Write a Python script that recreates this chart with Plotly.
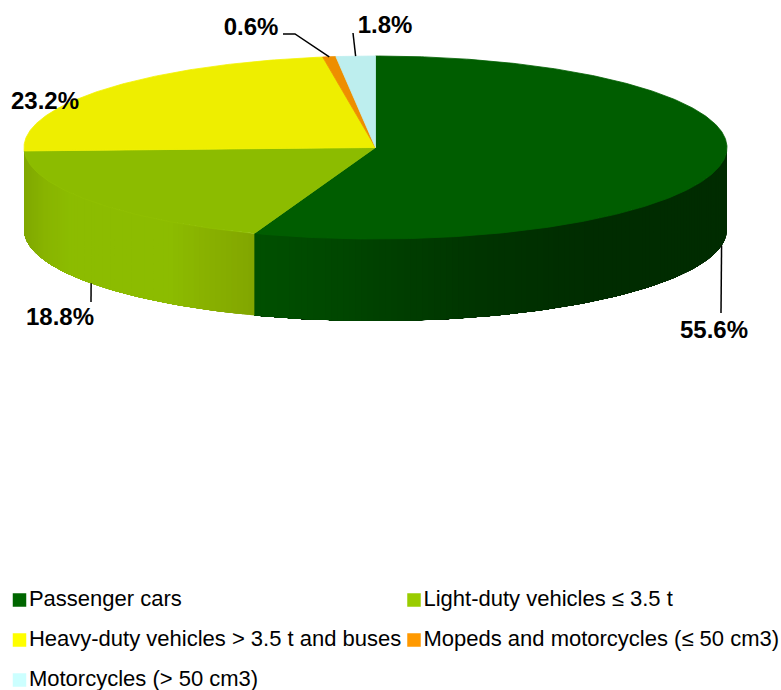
import numpy as np
import plotly.graph_objects as go

categories = ["Passenger cars", "Light-duty vehicles ≤ 3.5 t", "Heavy-duty vehicles > 3.5 t and buses",
              "Mopeds and motorcycles (≤ 50 cm3)", "Motorcycles (> 50 cm3)"]
shares = [55.6, 18.8, 23.2, 0.6, 1.8]
top_colors = ["#005d00", "#8cbc00", "#eeee00", "#ee8e00", "#bdeeee"]
edge_colors = ["#005f00", "#90c000", "#f2f200", "#ee8e00", "#bdeeee"]
legend_colors = ["#006600", "#99cc00", "#ffff00", "#ff9900", "#ccffff"]
label_x = [714, 60, 45, 251, 385]
label_y = [332, 319, 103, 29, 27]
# leader line end points (pixels), None = no leader
leader_ends = [[(721, 313)], [(91, 302)], None, [(295, 34), (283, 34)], [(353, 33)]]

CX, CY, RX, RY, DEPTH = 375.5, 147.5, 351.5, 91.5, 82

# side shading: (x pixel, rgb) stops per slice
side_stops = {
    0: ([253, 330, 400, 480, 590, 727], [(0, 80, 0), (0, 72, 0), (0, 62, 0), (0, 52, 0), (0, 44, 0), (0, 44, 0)]),
    1: ([24, 45, 70, 170, 210, 253], [(128, 168, 0), (136, 180, 0), (140, 188, 0), (140, 188, 0), (136, 176, 0), (130, 166, 0)]),
    2: ([24, 26], [(128, 168, 0), (128, 168, 0)]),
}


def px(theta):
    return CX + RX * np.sin(theta)


def py(theta):
    return CY - RY * np.cos(theta)


fig = go.Figure()
cum = np.concatenate([[0], np.cumsum(shares)]) / sum(shares) * 2 * np.pi


def add(x, y, fill, line=None, width=1.0):
    fig.add_trace(go.Scatter(x=x, y=y, mode="lines", fill="toself", fillcolor=fill,
                             line=dict(color=line or fill, width=width),
                             hoverinfo="skip", showlegend=False))


# side wall, visible between 90 and 270 degrees; each band runs on to the end of
# its slice and is painted over by the next one, so no seams show between bands
step = np.radians(1.0)
for i in range(len(shares)):
    a0 = max(cum[i], np.pi / 2)
    a1 = min(cum[i + 1], 3 * np.pi / 2)
    if a1 <= a0:
        continue
    xs_stop, cols = side_stops[i]
    n = max(1, int(np.ceil((a1 - a0) / step)))
    edges = np.linspace(a0, a1, n + 1)
    for s in range(n):
        t = np.linspace(edges[s], a1, max(3, (n - s) + 2))
        xm = px((edges[s] + edges[s + 1]) / 2)
        rgb = [int(round(np.interp(xm, xs_stop, [c[k] for c in cols]))) for k in range(3)]
        col = "rgb(%d,%d,%d)" % tuple(rgb)
        x = np.concatenate([px(t), px(t[::-1])])
        y = np.concatenate([py(t), py(t[::-1]) + DEPTH])
        add(x, y, col, width=0)

# top slices
for i in range(len(shares)):
    n = max(3, int(np.degrees(cum[i + 1] - cum[i])) * 2)
    t = np.linspace(cum[i], cum[i + 1], n)
    x = np.concatenate([[CX], px(t), [CX]])
    y = np.concatenate([[CY], py(t), [CY]])
    add(x, y, top_colors[i], edge_colors[i], 0.8)

# leader lines, starting at the outer edge of each slice's middle
lx, ly = [], []
for i, ends in enumerate(leader_ends):
    if not ends:
        continue
    mid = (cum[i] + cum[i + 1]) / 2
    front = np.pi / 2 < mid < 3 * np.pi / 2
    lx += [px(mid)] + [p[0] for p in ends] + [None]
    ly += [py(mid) + (DEPTH if front else 0)] + [p[1] for p in ends] + [None]
fig.add_trace(go.Scatter(x=lx, y=ly, mode="lines", line=dict(color="#000000", width=1.5),
                         hoverinfo="skip", showlegend=False))

# percentage labels
fig.add_trace(go.Scatter(x=label_x, y=label_y, mode="text",
                         text=["%.1f%%" % v for v in shares], textposition="middle center",
                         textfont=dict(family="Liberation Sans", size=24, color="#000000", weight="bold"),
                         hoverinfo="skip", showlegend=False))

# legend
legend_mx = [19.5, 414, 19.5, 414, 19.5]
legend_my = [600, 600, 640, 640, 680]
for i, name in enumerate(categories):
    fig.add_trace(go.Scatter(x=[legend_mx[i]], y=[legend_my[i]], mode="markers+text",
                             marker=dict(symbol="square", size=13.5, color=legend_colors[i], line=dict(width=0)),
                             text=[name], textposition="middle right",
                             textfont=dict(family="Liberation Sans", size=22, color="#000000"),
                             name=name, hoverinfo="name", showlegend=False))

fig.update_layout(width=781, height=690, margin=dict(l=0, r=0, t=0, b=0),
                  paper_bgcolor="#ffffff", plot_bgcolor="#ffffff", showlegend=False,
                  xaxis=dict(range=[0, 781], visible=False, fixedrange=True),
                  yaxis=dict(range=[690, 0], visible=False, fixedrange=True))
fig.write_html("out.html", config={"displayModeBar": False},
               post_script="document.body.style.margin='0';document.body.style.overflow='hidden';")
